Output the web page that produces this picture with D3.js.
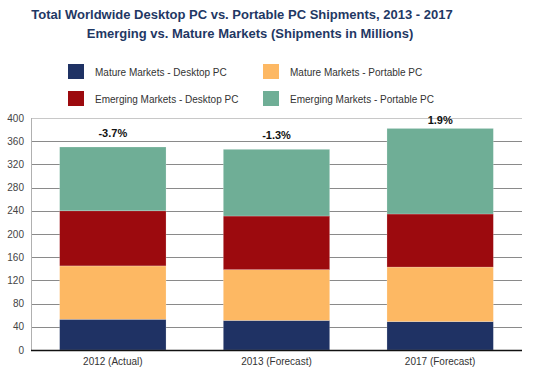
<!DOCTYPE html>
<html>
<head>
<meta charset="utf-8">
<script src="https://cdn.jsdelivr.net/npm/d3@7"></script>
<style>
  body { margin: 0; background: #fff; }
  svg { display: block; font-family: Arial, "Liberation Sans", sans-serif; }
</style>
</head>
<body>
<svg id="chart" width="533" height="371"></svg>
<script>
const categories = ["2012 (Actual)", "2013 (Forecast)", "2017 (Forecast)"];
const seriesNames = [
  "Mature Markets - Desktop PC",
  "Mature Markets - Portable PC",
  "Emerging Markets - Desktop PC",
  "Emerging Markets - Portable PC"
];
const matureDesktop = [53, 51, 49];
const maturePortable = [92, 87.5, 94];
const emergingDesktop = [95, 92.5, 91.5];
const emergingPortable = [110, 115, 147.5];
const growthLabels = ["-3.7%", "-1.3%", "1.9%"];
const yTicks = [0, 40, 80, 120, 160, 200, 240, 280, 320, 360, 400];

const colors = ["#1f3264", "#fdb863", "#9c0a0e", "#6fae96"];

const svg = d3.select("#chart");
const margin = { top: 118, right: 11, bottom: 21, left: 31 };
const width = 533 - margin.left - margin.right;
const height = 371 - margin.top - margin.bottom;

// Title
const title = svg.append("g").attr("fill", "#1f3864")
  .attr("font-weight", "bold").attr("font-size", 13);
title.append("text").attr("x", 242).attr("y", 19).attr("text-anchor", "middle")
  .text("Total Worldwide Desktop PC vs. Portable PC Shipments, 2013 - 2017");
title.append("text").attr("x", 250).attr("y", 38).attr("text-anchor", "middle")
  .text("Emerging vs. Mature Markets (Shipments in Millions)");

// Legend (2x2)
const legendPos = [[68, 64], [263, 64], [68, 91], [263, 91]];
const legend = svg.append("g").attr("font-size", 10).attr("fill", "#333");
seriesNames.forEach((name, i) => {
  const [lx, ly] = legendPos[i];
  legend.append("rect").attr("x", lx).attr("y", ly).attr("width", 16).attr("height", 15)
    .attr("fill", colors[i]);
  legend.append("text").attr("x", lx + 27).attr("y", ly + 11.5).text(name);
});

const g = svg.append("g").attr("transform", `translate(${margin.left},${margin.top})`);

const x = d3.scaleBand().domain(categories).range([0, width])
  .paddingInner(0.35).paddingOuter(0.175);
const y = d3.scaleLinear().domain([0, 400]).range([height, 0]);

// Gridlines
g.append("g").selectAll("line").data(yTicks.filter(d => d > 0)).join("line")
  .attr("x1", 0).attr("x2", width)
  .attr("y1", d => Math.round(y(d)) + 0.5).attr("y2", d => Math.round(y(d)) + 0.5)
  .attr("stroke", d => d === 400 ? "#c8c8c8" : "#8a8a8a").attr("stroke-width", 1);

// Left axis line
g.append("line").attr("x1", 0.5).attr("x2", 0.5).attr("y1", Math.round(y(400))).attr("y2", height)
  .attr("stroke", "#b0b0b0");

// Y tick labels
g.append("g").attr("font-size", 10).attr("fill", "#444").attr("text-anchor", "end")
  .selectAll("text").data(yTicks).join("text")
  .attr("x", -7).attr("y", d => y(d)).attr("dy", "0.35em").text(d => d);

// Stacked bars
const rows = categories.map((c, i) => ({
  cat: c,
  s0: matureDesktop[i], s1: maturePortable[i], s2: emergingDesktop[i], s3: emergingPortable[i]
}));
const stack = d3.stack().keys(["s0", "s1", "s2", "s3"]);
const layers = stack(rows);

g.append("g").selectAll("g").data(layers).join("g")
  .attr("fill", (d, i) => colors[i])
  .selectAll("rect").data(d => d).join("rect")
  .attr("x", d => x(d.data.cat))
  .attr("width", x.bandwidth())
  .attr("y", d => y(d[1]))
  .attr("height", d => y(d[0]) - y(d[1]))
  .attr("stroke", "rgba(255,255,255,0.35)").attr("stroke-width", 0.6);

// Bottom axis line
g.append("line").attr("x1", 0).attr("x2", width)
  .attr("y1", height + 0.5).attr("y2", height + 0.5)
  .attr("stroke", "#111").attr("stroke-width", 1.6);

// Category labels
g.append("g").attr("font-size", 10).attr("fill", "#333").attr("text-anchor", "middle")
  .selectAll("text").data(categories).join("text")
  .attr("x", d => x(d) + x.bandwidth() / 2).attr("y", height + 15).text(d => d);

// Growth labels
g.append("g").attr("font-size", 11).attr("font-weight", "bold").attr("fill", "#111")
  .attr("text-anchor", "middle")
  .selectAll("text").data(rows).join("text")
  .attr("x", d => x(d.cat) + x.bandwidth() / 2)
  .attr("y", d => Math.max(y(d.s0 + d.s1 + d.s2 + d.s3) - 10, y(400) + 6))
  .text((d, i) => growthLabels[i]);
</script>
</body>
</html>
